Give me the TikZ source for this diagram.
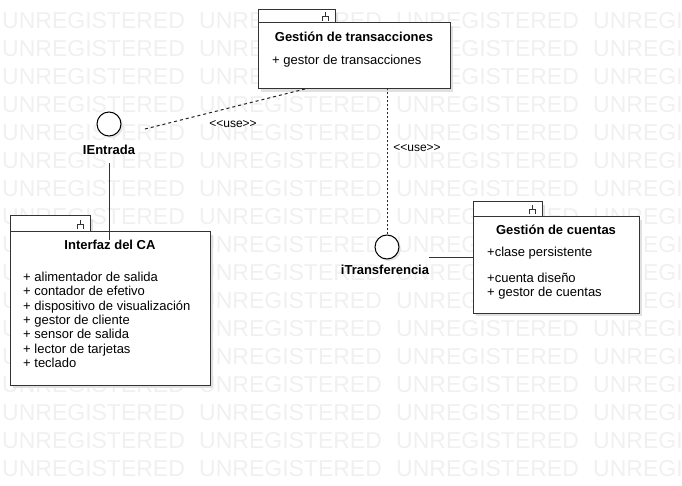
\documentclass[tikz,border=0pt]{standalone}
\usepackage{fontspec}
\setmainfont{Liberation Sans}
\usetikzlibrary{shadows}

\begin{document}
\begin{tikzpicture}[x=1pt,y=-1pt,
		wmark/.style={text=black!6,font=\fontsize{23}{23}\selectfont,anchor=base west,inner sep=0pt},
		comp/.style={draw=black!80,line width=1pt,fill=white,inner sep=0pt,outer sep=0pt,anchor=north west,
			drop shadow={shadow xshift=3pt,shadow yshift=-3pt,fill=black!12,opacity=1}},
		title/.style={font=\bfseries\fontsize{13}{15}\selectfont,anchor=base,inner sep=0pt},
		item/.style={font=\fontsize{13}{15}\selectfont,anchor=base west,inner sep=0pt},
		iface/.style={circle,draw=black,line width=1pt,fill=white,minimum size=24pt,inner sep=0pt,
			drop shadow={shadow xshift=2pt,shadow yshift=-2pt,fill=black!10,opacity=1}},
		ilabel/.style={font=\bfseries\fontsize{13}{15}\selectfont,anchor=base,inner sep=0pt},
		dep/.style={draw=black!85,line width=1pt,dash pattern=on 3pt off 3pt},
		stereo/.style={font=\fontsize{12}{14}\selectfont,anchor=base,inner sep=0pt}
	]
	\useasboundingbox (0,0) rectangle (682,486);
	\clip (0,0) rectangle (682,486);

	\foreach \r in {0,...,16}
		\foreach \c in {0,...,3}
			\node[wmark] (wm\r-\c) at (2+197*\c,28.3+28*\r) {UNREGISTERED};

	% tabs first, boxes over them
	\node[comp,minimum width=77pt,minimum height=13pt] (transtab) at (258,10) {};
	\node[comp,minimum width=80pt,minimum height=16pt] (catab) at (10,216) {};
	\node[comp,minimum width=69pt,minimum height=15pt] (cuentastab) at (473,202) {};

	\node[comp,minimum width=192pt,minimum height=66pt] (trans) at (258,23) {};
	\node[comp,minimum width=200pt,minimum height=153pt] (ca) at (10,232) {};
	\node[comp,minimum width=166pt,minimum height=96pt] (cuentas) at (473,217) {};

	\foreach \t in {transtab,catab,cuentastab}
		\draw[black!80,line width=0.8pt,shift={(\t.east)}]
			(-10,-4) -- (-10,0) (-13,5) -- (-13,0) -- (-7,0) -- (-7,5);

	\node[title] (transtitle) at (354,41.5) {Gestión de transacciones};
	\node[item] (trans0) at (272,64.5) {+ gestor de transacciones};

	\node[title] (catitle) at (110,249.5) {Interfaz del CA};
	\foreach \t [count=\i from 0] in {+ alimentador de salida,+ contador de efetivo,
			+ dispositivo de visualización,+ gestor de cliente,+ sensor de salida,
			+ lector de tarjetas,+ teclado}
		\node[item] (ca\i) at (23,281.5+14.3*\i) {\t};

	\node[title] (cuentastitle) at (556,234.5) {Gestión de cuentas};
	\node[item] (cuentas0) at (487,256.5) {+clase persistente};
	\node[item] (cuentas1) at (487,282.5) {+cuenta diseño};
	\node[item] (cuentas2) at (487,296.5) {+ gestor de cuentas};

	\node[iface] (ifE) at (109,124) {};
	\node[ilabel] (lblE) at (109,154.5) {IEntrada};
	\node[iface] (ifT) at (387,247) {};
	\node[ilabel] (lblT) at (385,274.5) {iTransferencia};

	\coordinate (useE) at (145,129);
	\draw[dep] (useE) -- ([xshift=47pt]trans.south west);
	\node[stereo] (useA) at (233,127.5) {<{}<use>{}>};

	\draw[dep,dash pattern=on 2pt off 2pt] (ifT.north) -- (ifT.north |- trans.south);
	\node[stereo] (useB) at (417,151.5) {<{}<use>{}>};

	\draw[black!80,line width=1pt] ([yshift=-8pt]lblE.south) -- ([yshift=-8pt]lblE.south |- ca.north);
	\draw[black!80,line width=1pt] ([yshift=7pt]lblT.north east) -- ([yshift=7pt]lblT.north east -| cuentas.west);
\end{tikzpicture}
\end{document}
